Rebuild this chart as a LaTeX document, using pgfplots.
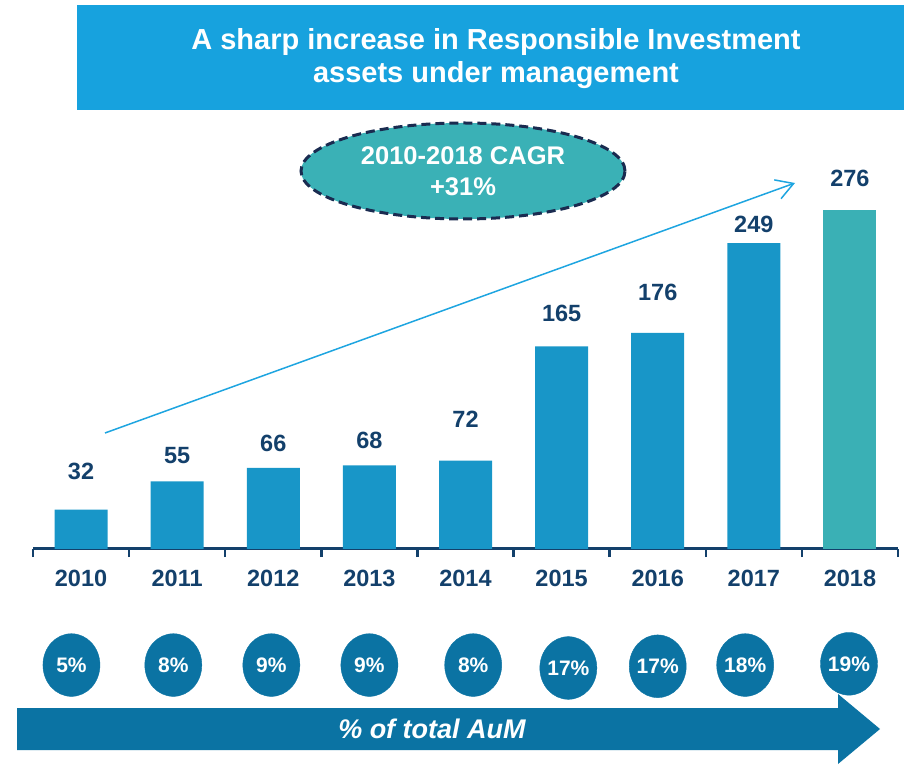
\documentclass[border=0pt]{standalone}
\usepackage{pgfplots}
\pgfplotsset{compat=1.18}
\usepackage{pgfplotstable}
\usetikzlibrary{arrows.meta}
\usepackage{fontspec}
\setmainfont{Liberation Sans}

\definecolor{banner}{HTML}{17A2DE}
\definecolor{barblue}{HTML}{1896C8}
\definecolor{barteal}{HTML}{3AB0B5}
\definecolor{navy}{HTML}{13406B}
\definecolor{ellfill}{HTML}{3AB1B6}
\definecolor{elldraw}{HTML}{1A2B50}
\definecolor{circ}{HTML}{0B73A3}
\definecolor{trend}{HTML}{1EA5E0}

% AuM values (bars) and label offsets above bar top
\pgfplotstableread{
x y off
0 32 38
1 55 26
2 66 25
3 68 25
4 72 41
5 165 33
6 176 40
7 249 19
}\barsmain
\pgfplotstableread{
x y off
8 276 32
}\barslast
% share of total AuM
\pgfplotstableread{
x y pct
-0.10 -94.5 5
0.96 -94.5 8
1.98 -94.5 9
3.00 -94.5 9
4.08 -94.5 8
5.07 -96.9 17
6.00 -95.5 17
6.91 -94.5 18
7.99 -93.5 19
}\pcts

\begin{document}
\begin{tikzpicture}[x=1pt,y=1pt]
\useasboundingbox (0,0) rectangle (904,768);

% title banner
\fill[banner] (77,658) rectangle (904,763);
\node[text=white, align=center, font=\fontsize{29}{33}\selectfont\bfseries] at (496,709.5)
  {A sharp increase in Responsible Investment\\assets under management};

\begin{axis}[
  at={(33pt,219pt)}, anchor=south west,
  scale only axis, width=865pt, height=368.4pt,
  xmin=-0.5, xmax=8.5, ymin=0, ymax=300,
  axis x line*=bottom, axis y line=none,
  x axis line style={line width=3pt, draw=navy, -},
  xtick={0,...,8},
  xticklabels={2010,2011,2012,2013,2014,2015,2016,2017,2018},
  minor xtick={-0.5,0.5,...,8.5},
  major tick length=0pt, minor tick length=8pt, tick align=outside,
  tick style={line width=2.5pt, draw=navy},
  xticklabel style={font=\fontsize{23.5}{23.5}\selectfont\bfseries, text=navy, anchor=center, yshift=-29pt},
  ytick=\empty,
  /pgf/number format/assume math mode=true,
  clip=false,
]
\addplot[ybar, bar width=53pt, bar shift=0pt, fill=barblue, draw=none,
  nodes near coords, visualization depends on={\thisrow{off}\as\off},
  nodes near coords style={anchor=center, yshift=\off pt, text=navy,
    font=\fontsize{23.5}{23.5}\selectfont\bfseries}]
  table[x=x,y=y]{\barsmain};
\addplot[ybar, bar width=53pt, bar shift=0pt, fill=barteal, draw=none,
  nodes near coords, visualization depends on={\thisrow{off}\as\off},
  nodes near coords style={anchor=center, yshift=\off pt, text=navy,
    font=\fontsize{23.5}{23.5}\selectfont\bfseries}]
  table[x=x,y=y]{\barslast};
\addplot[only marks, mark=*, mark size=28.5pt, color=circ,
  mark options={fill=circ, draw=circ, yscale=1.1},
  point meta=\thisrow{pct},
  nodes near coords={\pgfmathprintnumber{\pgfplotspointmeta}\%},
  nodes near coords style={anchor=center, text=white,
    font=\fontsize{21}{21}\selectfont\bfseries}]
  table[x=x,y=y]{\pcts};
\end{axis}

% trend arrow
\draw[trend, line width=1.5pt, -{Straight Barb[length=17pt,width=20pt]}] (105,335) -- (795,585);

% CAGR ellipse
\draw[fill=ellfill, draw=elldraw, line width=3pt, dash pattern=on 9pt off 5pt]
  (463,597) ellipse [x radius=162, y radius=48];
\node[text=white, align=center, font=\fontsize{25.5}{31}\selectfont\bfseries] at (463,597)
  {2010-2018 CAGR\\+31\%};

% bottom arrow band
\fill[circ] (17,60) -- (838,60) -- (838,74) -- (880,39) -- (838,4) -- (838,18) -- (17,18) -- cycle;
\node[text=white, font=\fontsize{27}{27}\selectfont\bfseries\itshape] at (432,39) {\% of total AuM};
\end{tikzpicture}
\end{document}
